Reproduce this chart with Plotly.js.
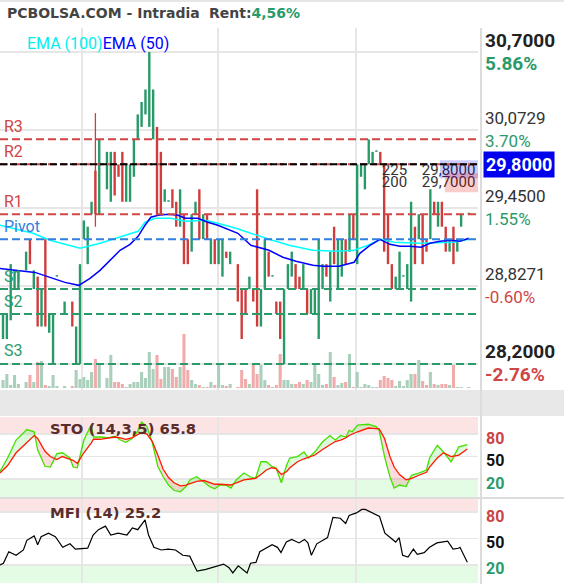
<!DOCTYPE html>
<html><head><meta charset="utf-8">
<script src="https://cdn.plot.ly/plotly-3.0.1.min.js"></script>
<style>html,body{margin:0;padding:0;background:#fff;}#chart{width:564px;height:584px;}</style>
</head><body><div id="chart"></div>
<script>
// ---------------- DATA ----------------
const barX = [0,1,2,3,4,6,7,8,9,10,11,12,13,14,16,18,19,20,21,22,23,24,25,27,28,29,30,31,32,33,34,35,36,37,38,39,40,41,42,43,44,45,46,47,48,49,50,51,52,53,54,55,56,57,58,59,61,62,63,64,65,66,67,68,69,70,71,72,73,74,75,76,77,78,79,80,81,82,83,84,85,86,87,88,89,90,91,92,93,94,95,96,97,98,99,100,101,102,103,104,105,106,107,108,109,110,111,112,113,114,115,116,117,118,119,121];
const barOpen = [
28.40,28.40,28.55,28.80,28.80,28.95,29.20,28.80,28.90,28.50,
29.20,28.45,28.20,28.90,28.60,28.70,28.20,28.20,29.20,29.00,
29.40,29.75,29.40,29.60,29.50,29.90,29.80,29.90,29.50,29.50,
29.70,30.00,30.10,30.20,30.10,30.00,30.10,29.90,29.50,29.50,
29.60,29.50,29.30,29.40,29.20,29.10,29.40,29.60,29.20,29.40,
29.00,29.20,29.00,28.90,29.10,29.00,29.00,28.80,28.80,28.80,
28.80,29.60,28.50,28.80,29.10,28.90,28.70,28.70,28.20,28.80,
28.90,29.00,28.90,28.80,28.80,28.60,28.60,28.40,28.80,29.00,
28.70,29.30,28.80,28.90,29.20,29.10,29.40,29.00,29.70,29.60,
29.80,29.80,29.90,29.90,29.80,29.40,29.00,28.80,28.80,28.90,
28.80,28.70,29.30,29.20,29.40,29.20,29.20,29.50,29.30,29.50,
29.30,29.10,29.30,29.10,29.30,29.40];
const barClose = [
28.60,28.60,29.00,28.95,28.95,29.10,29.00,28.95,28.50,28.80,
28.50,28.60,28.60,28.91,28.70,28.50,28.50,29.00,29.35,29.30,
29.50,29.40,30.00,29.90,29.90,29.55,29.70,29.50,29.80,29.80,
30.00,30.20,30.30,30.40,30.70,30.40,29.40,29.40,29.60,29.51,
29.45,29.30,29.60,29.00,29.00,29.40,29.50,29.20,29.40,29.20,
29.20,29.00,29.20,29.20,29.05,29.10,28.70,28.40,28.60,28.90,
28.70,28.50,28.80,29.20,28.90,28.91,28.60,28.40,28.80,29.00,
29.10,28.80,28.80,29.00,28.60,28.80,28.80,29.20,29.00,28.90,
29.10,29.00,29.20,29.20,29.00,29.40,29.20,29.80,29.80,29.80,
30.00,29.90,29.91,29.80,29.10,29.00,28.80,28.90,29.10,28.91,
29.00,29.50,29.00,29.40,29.00,29.10,29.60,29.40,29.50,29.30,
29.10,29.20,29.00,29.20,29.40,29.41];
const volume = [
8,14,3,13,4,6,13,6,26,27,
3,2,13,2,2,2,18,9,11,8,
16,29,23,10,33,6,6,4,1,4,
6,6,16,10,36,19,33,9,21,21,
19,11,21,54,18,8,4,3,1,1,
6,3,23,3,2,4,1,18,9,4,
23,14,23,8,3,1,3,34,8,8,
4,4,6,4,8,6,23,14,3,4,
36,11,3,5,6,34,1,16,1,4,
3,1,1,8,12,10,8,2,7,2,
8,14,14,28,7,3,16,4,3,4,
4,3,23,1,1,1];
const wickX = [24];
const wickHigh = [30.21];
const wickLow = [29.30];

const ema50X = [-0.8,1.8,4.4,8.3,12.2,16.1,19.7,22.6,25.2,27.8,30.4,33.0,35.1,36.9,38.4,40.3,42.9,45.5,47.3,50.6,53.2,55.8,59.2,61.0,64.4,69.1,72.7,76.1,80.5,83.1,87.3,91.2,92.7,95.3,97.9,100.5,103.1,105.7,108.6,110.9,113.5,116.4,118.7,121.0];
const ema50 = [28.966,28.958,28.950,28.934,28.894,28.854,28.830,28.886,28.950,29.031,29.111,29.159,29.223,29.312,29.376,29.392,29.400,29.392,29.368,29.368,29.336,29.312,29.271,29.247,29.151,29.111,29.055,29.023,28.991,28.983,28.983,29.015,29.087,29.151,29.199,29.159,29.143,29.143,29.135,29.167,29.183,29.191,29.183,29.207];
const ema100X = [-0.8,3.6,7.8,12.2,16.1,20.0,25.2,30.4,35.1,36.9,39.5,43.6,47.3,52.5,55.8,60.5,64.9,69.1,74.3,80.5,86.5,91.2,94.8,98.2,101.6,108.6,117.1,121.0];
const ema100 = [29.312,29.279,29.247,29.191,29.159,29.127,29.167,29.215,29.263,29.336,29.368,29.368,29.344,29.352,29.328,29.287,29.239,29.199,29.151,29.111,29.103,29.111,29.151,29.199,29.175,29.167,29.175,29.199];

const pivotNames = ['R3','R2','R1','Pivot','S1','S2','S3'];
const pivotValues = [30.0,29.8,29.4,29.2,28.8,28.6,28.2];
const lastPrice = 29.80;
const lastPriceText = '29,8000';

const priceTickVals = [30.7,30.0729,29.45,28.8271,28.2];
const priceTickText = ['30,7000','30,0729','29,4500','28,8271','28,2000'];
const pctTickText = ['5.86%','3.70%','1.55%','-0.60%','-2.76%'];

const dayTickVals = [20.5,55.8,91.6];
const dayTickText = ['11','17','21'];

const stoX = [-0.8,1.2,3.4,6.2,8.1,9.0,10.9,12.3,14.0,15.4,17.4,18.2,19.3,21.0,22.9,23.5,25.2,27.1,29.1,30.5,31.9,33.5,34.9,36.0,37.4,38.8,40.2,41.6,43.0,44.4,46.1,47.5,48.6,50.3,52.2,53.6,55.0,56.4,57.8,59.2,60.6,62.6,64.2,65.6,67.0,68.4,69.8,70.9,72.3,73.7,74.5,76.5,78.2,79.3,81.0,82.9,84.9,86.3,87.7,89.1,89.9,90.7,92.1,94.9,96.9,97.7,99.1,100.5,101.6,103.0,104.7,106.1,108.0,110.0,110.8,112.8,114.4,116.4,118.4,120.6];
const stoK = [30,48,72,86,83,59,37,36,54,55,48,36,35,72,92,76,76,75,77,72,69,74,83,96,90,68,37,23,12,5,3,10,19,23,16,10,7,12,12,8,19,28,23,21,43,43,37,35,15,39,48,50,56,48,56,69,78,72,78,76,85,83,92,93,90,85,50,23,8,12,10,25,28,32,48,65,56,43,63,66];
const stoD = [28,38,55,68,78,74,57,50,46,50,47,45,41,55,68,73,73,74,76,75,73,75,79,82,80,70,52,33,22,15,11,12,14,17,18,15,13,13,13,12,15,19,20,21,26,32,35,34,26,30,35,43,47,49,52,59,66,70,72,75,78,80,83,88,88,87,74,50,36,26,19,21,25,29,36,48,55,50,52,60];
const mfiX = [-0.8,0.1,1.5,3.4,5.3,6.2,8.1,9.0,9.9,11.8,13.6,15.5,17.4,18.8,22.0,23.4,24.8,26.6,28.0,29.9,32.2,33.6,35.0,36.9,37.8,39.2,41.1,42.9,44.8,46.7,48.5,50.4,52.7,55.0,57.3,58.7,59.7,61.1,62.5,63.4,64.3,65.7,66.7,68.5,69.9,71.3,72.2,73.6,75.0,76.9,78.3,79.2,80.1,81.5,82.9,84.3,85.7,87.6,89.0,89.9,91.8,93.2,94.1,96.0,97.8,99.2,100.6,102.0,102.9,103.8,105.2,106.6,107.6,109.4,110.8,112.7,115.5,116.9,118.3,118.7,120.6];
const mfi = [20,22,35,31,37,48,53,43,52,56,52,40,44,38,39,54,60,64,54,56,54,62,60,71,54,40,37,38,37,31,30,13,15,18,21,17,11,19,14,11,22,23,35,40,43,40,34,46,49,45,49,45,31,44,48,51,74,73,67,76,79,83,83,79,75,56,51,46,51,31,29,38,32,34,40,45,47,38,39,40,23];
const oscLevels = [80,50,20];

// ---------------- STYLE / LAYOUT HELPERS ----------------
const W = 564, H = 584;
const FONT = 'Roboto, sans-serif';
const DJ = '"DejaVu Sans", sans-serif';
const UP = '#279a68', DOWN = '#d03c3c';
const VUP = '#aacfbb', VDOWN = '#f2abab';
const px = v => v / W;
const py = v => 1 - v / H;
const XR = [-0.78, 123.38];

const isUp = barOpen.map((o, i) => barClose[i] >= o);
const bodyBase = barOpen.map((o, i) => Math.min(o, barClose[i]));
const bodyH = barOpen.map((o, i) => Math.max(Math.abs(barClose[i] - o), 0.012));

const wx = [], wy = [];
wickX.forEach((x, i) => { wx.push(x, x, null); wy.push(wickLow[i], wickHigh[i], null); });

const stoHi = stoK.map((k, i) => Math.max(k, stoD[i]));
const stoLo = stoK.map((k, i) => Math.min(k, stoD[i]));

const traces = [
  {type:'bar', x:barX, y:bodyH, base:bodyBase, width:0.62, xaxis:'x', yaxis:'y',
   marker:{color:isUp.map(u => u ? UP : DOWN), line:{width:0}}, hoverinfo:'skip'},
  {type:'scatter', mode:'lines', x:wx, y:wy, xaxis:'x', yaxis:'y', line:{color:DOWN, width:1.3}, hoverinfo:'skip'},
  {type:'scatter', mode:'lines', x:ema100X, y:ema100, xaxis:'x', yaxis:'y', line:{color:'#00ffff', width:1.5}, hoverinfo:'skip'},
  {type:'scatter', mode:'lines', x:ema50X, y:ema50, xaxis:'x', yaxis:'y', line:{color:'#0000ff', width:1.5}, hoverinfo:'skip'},
  {type:'bar', x:barX, y:volume, width:0.8, xaxis:'x', yaxis:'y2',
   marker:{color:isUp.map(u => u ? VUP : VDOWN), line:{width:0}}, hoverinfo:'skip'},
  // STO fills
  {type:'scatter', mode:'lines', x:stoX, y:stoD, xaxis:'x2', yaxis:'y3', line:{width:0}, hoverinfo:'skip'},
  {type:'scatter', mode:'lines', x:stoX, y:stoHi, xaxis:'x2', yaxis:'y3', line:{width:0}, fill:'tonexty', fillcolor:'rgba(60,230,60,0.18)', hoverinfo:'skip'},
  {type:'scatter', mode:'lines', x:stoX, y:stoLo, xaxis:'x2', yaxis:'y3', line:{width:0}, hoverinfo:'skip'},
  {type:'scatter', mode:'lines', x:stoX, y:stoD, xaxis:'x2', yaxis:'y3', line:{width:0}, fill:'tonexty', fillcolor:'rgba(240,60,60,0.18)', hoverinfo:'skip'},
  {type:'scatter', mode:'lines', x:stoX, y:stoK, xaxis:'x2', yaxis:'y3', line:{color:'#44e000', width:1.3}, hoverinfo:'skip'},
  {type:'scatter', mode:'lines', x:stoX, y:stoD, xaxis:'x2', yaxis:'y3', line:{color:'#ff1a00', width:1.3}, hoverinfo:'skip'},
  {type:'scatter', mode:'lines', x:mfiX, y:mfi, xaxis:'x3', yaxis:'y4', line:{color:'#000', width:1.2}, hoverinfo:'skip'},
  // order book text (clipped at plot edge like the reference)
  {type:'scatter', mode:'text', x:[98.4,98.4,108.8,108.8], y:[29.748,29.648,29.748,29.648],
   text:['225','200','29,8000','29,7000'], textposition:'middle right', cliponaxis:true,
   textfont:{family:FONT, size:15, color:'#333'}, xaxis:'x', yaxis:'y', hoverinfo:'skip'}
];

const shapes = [
  {type:'rect', xref:'paper', yref:'paper', x0:0, x1:1, y0:py(2), y1:1, fillcolor:'#e6e6e6', line:{width:0}},
  {type:'rect', xref:'paper', yref:'paper', x0:0, x1:1, y0:py(416), y1:py(390), fillcolor:'#e8e8e8', line:{width:0}},
  {type:'line', xref:'paper', yref:'paper', x0:px(481), x1:px(481), y0:0, y1:py(28), line:{color:'#dcdcdc', width:2}},
  {type:'line', xref:'paper', yref:'paper', x0:0, x1:1, y0:py(498), y1:py(498), line:{color:'#dcdcdc', width:2}},
  {type:'rect', xref:'x2 domain', yref:'y3', x0:0, x1:1, y0:80, y1:102.7, fillcolor:'#fde4e4', line:{width:0}, layer:'below'},
  {type:'rect', xref:'x2 domain', yref:'y3', x0:0, x1:1, y0:-5.3, y1:20, fillcolor:'#e4fbe4', line:{width:0}, layer:'below'},
  {type:'rect', xref:'x3 domain', yref:'y4', x0:0, x1:1, y0:80, y1:95.9, fillcolor:'#fde4e4', line:{width:0}, layer:'below'},
  {type:'rect', xref:'x3 domain', yref:'y4', x0:0, x1:1, y0:-0.4, y1:20, fillcolor:'#e4fbe4', line:{width:0}, layer:'below'},
  {type:'rect', xref:'x', yref:'y', x0:113.5, x1:125, y0:29.689, y1:29.833, fillcolor:'rgba(0,0,230,0.2)', line:{width:0}},
  {type:'rect', xref:'x', yref:'y', x0:114.8, x1:125, y0:29.576, y1:29.729, fillcolor:'rgba(230,0,0,0.2)', line:{width:0}}
];
const pivotColor = n => n[0] === 'R' ? '#d04545' : (n[0] === 'S' ? '#2a9a6a' : '#2f80e0');
pivotNames.forEach((n, i) => {
  shapes.push({type:'line', xref:'x domain', yref:'y', x0:0, x1:1, y0:pivotValues[i], y1:pivotValues[i],
    line:{color:pivotColor(n), width:2, dash:'8px,4px'}});
});
shapes.push({type:'line', xref:'x domain', yref:'y', x0:0, x1:1, y0:lastPrice, y1:lastPrice,
  line:{color:'#000', width:2, dash:'7px,3px'}});

const annotations = [
  {xref:'paper', yref:'paper', x:px(5), y:py(13), xanchor:'left', yanchor:'middle', showarrow:false,
   text:'PCBOLSA.COM - Intradia', font:{family:DJ, size:14, color:'#444', weight:'bold'}},
  {xref:'paper', yref:'paper', x:px(207), y:py(13), xanchor:'left', yanchor:'middle', showarrow:false,
   text:'Rent:<span style="color:#2a9a6a">4,56%</span>', font:{family:DJ, size:14, color:'#444', weight:'bold'}},
  {xref:'paper', yref:'paper', x:px(25), y:py(43), xanchor:'left', yanchor:'middle', showarrow:false,
   text:'<span style="color:#00f0f0">EMA (100)</span><span style="color:#0000ff">EMA (50)</span>', font:{family:FONT, size:16}},
  {xref:'paper', yref:'paper', x:px(48), y:py(428), xanchor:'left', yanchor:'middle', showarrow:false,
   text:'STO (14,3,5) 65.8', font:{family:DJ, size:14.8, color:'#5a2d2d', weight:'bold'}},
  {xref:'paper', yref:'paper', x:px(48), y:py(512), xanchor:'left', yanchor:'middle', showarrow:false,
   text:'MFI (14) 25.2', font:{family:DJ, size:14.8, color:'#5a2d2d', weight:'bold'}},
  {xref:'paper', yref:'y', x:px(483), y:lastPrice, xanchor:'left', yanchor:'middle', showarrow:false,
   text:lastPriceText, bgcolor:'#0000ee', borderpad:2, font:{family:FONT, size:18, color:'#fff', weight:'bold'}}
];
pivotNames.forEach((n, i) => {
  annotations.push({xref:'paper', yref:'y', x:px(2), y:pivotValues[i], yshift:13, xanchor:'left', yanchor:'middle',
    showarrow:false, text:n, font:{family:FONT, size:16, color:pivotColor(n)}});
});
priceTickVals.forEach((v, i) => {
  const edge = (i === 0 || i === priceTickVals.length - 1);
  annotations.push({xref:'paper', yref:'y', x:px(483), y:v, yshift:12, xanchor:'left', yanchor:'middle', showarrow:false,
    text:priceTickText[i], font:{family:FONT, size:edge ? 19 : 17, color:edge ? '#222' : '#333', weight:edge ? 'bold' : 'normal'}});
  const neg = pctTickText[i][0] === '-';
  annotations.push({xref:'paper', yref:'y', x:px(483), y:v, yshift:-11, xanchor:'left', yanchor:'middle', showarrow:false,
    text:pctTickText[i], font:{family:FONT, size:edge ? 19 : 17, color:neg ? '#d04545' : '#2a9a6a', weight:edge ? 'bold' : 'normal'}});
});
const lvlColors = ['#cc4444', '#111', '#2a9a6a'];
oscLevels.forEach((v, i) => {
  ['y3', 'y4'].forEach(ax => {
    annotations.push({xref:'paper', yref:ax, x:px(484), y:v, yshift:-4, xanchor:'left', yanchor:'middle', showarrow:false,
      text:String(v), font:{family:FONT, size:16, color:lvlColors[i], weight:'bold'}});
  });
});

const gridC = '#e6e6e6';
const layout = {
  width:W, height:H, margin:{l:0, r:0, t:0, b:0}, paper_bgcolor:'#fff', plot_bgcolor:'rgba(0,0,0,0)',
  showlegend:false, barmode:'overlay', font:{family:FONT},
  xaxis:{domain:[0, px(478)], range:XR, anchor:'y', tickvals:dayTickVals, showticklabels:false, ticks:'',
    showgrid:true, gridcolor:gridC, gridwidth:2, zeroline:false, showline:false, fixedrange:true},
  yaxis:{domain:[py(390), py(28)], range:[27.9913, 30.8926], tickvals:priceTickVals, showticklabels:false, ticks:'',
    showgrid:true, gridcolor:gridC, gridwidth:2, zeroline:false, showline:false, fixedrange:true},
  yaxis2:{overlaying:'y', anchor:'x', range:[-2, 360], visible:false, fixedrange:true},
  xaxis2:{domain:[0, px(478)], range:XR, anchor:'y3', side:'top', tickvals:dayTickVals, ticktext:dayTickText,
    tickfont:{family:FONT, size:16, color:'#444'}, ticks:'', showgrid:true, gridcolor:gridC, gridwidth:2,
    zeroline:false, showline:false, fixedrange:true},
  yaxis3:{domain:[py(498), py(417)], range:[-5.3, 102.7], anchor:'x2', tickvals:oscLevels, showticklabels:false, ticks:'',
    showgrid:true, gridcolor:gridC, gridwidth:1.5, zeroline:false, fixedrange:true},
  xaxis3:{domain:[0, px(478)], range:XR, anchor:'y4', tickvals:dayTickVals, showticklabels:false, ticks:'',
    showgrid:true, gridcolor:gridC, gridwidth:2, zeroline:false, showline:false, fixedrange:true},
  yaxis4:{domain:[py(583), py(498)], range:[-0.4, 95.9], anchor:'x3', tickvals:oscLevels, showticklabels:false, ticks:'',
    showgrid:true, gridcolor:gridC, gridwidth:1.5, zeroline:false, fixedrange:true},
  shapes:shapes, annotations:annotations
};
Plotly.newPlot('chart', traces, layout, {staticPlot:true, displayModeBar:false});
</script></body></html>
